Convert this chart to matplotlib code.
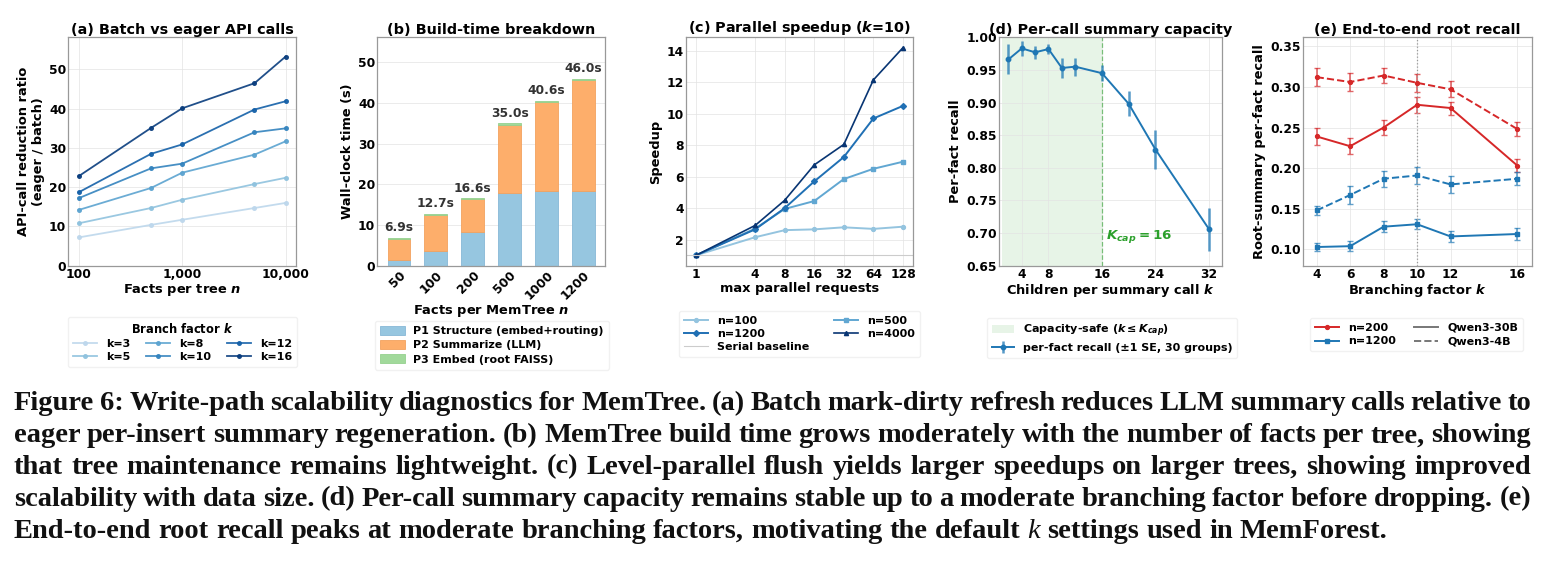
import numpy as np
import matplotlib
matplotlib.use("Agg")
import matplotlib.pyplot as plt
from matplotlib.lines import Line2D

# ---------------- data ----------------
# (a)
a_n = [100, 500, 1000, 5000, 10000]
a_k_labels = ["k=3", "k=5", "k=8", "k=10", "k=12", "k=16"]
a_k3 = [7.2, 10.4, 11.7, 14.7, 16.0]
a_k5 = [10.8, 14.7, 16.8, 20.8, 22.4]
a_k8 = [14.2, 19.8, 23.7, 28.3, 31.7]
a_k10 = [17.2, 24.8, 26.0, 34.0, 35.0]
a_k12 = [18.7, 28.5, 30.9, 39.8, 41.9]
a_k16 = [22.8, 35.1, 40.1, 46.5, 53.3]

# (b)
b_n = ["50", "100", "200", "500", "1000", "1200"]
b_p1 = [1.5, 3.7, 8.4, 17.8, 18.3, 18.3]
b_p2 = [5.1, 8.7, 7.9, 16.9, 22.0, 27.4]
b_p3 = [0.3, 0.3, 0.3, 0.3, 0.3, 0.3]
b_total = [6.9, 12.7, 16.6, 35.0, 40.6, 46.0]

# (c)
c_par = [1, 4, 8, 16, 32, 64, 128]
c_n100 = [1.0, 2.15, 2.6, 2.65, 2.78, 2.68, 2.82]
c_n500 = [1.0, 2.7, 3.95, 4.45, 5.85, 6.5, 6.95]
c_n1200 = [1.0, 2.65, 4.0, 5.7, 7.25, 9.7, 10.5]
c_n4000 = [1.0, 2.9, 4.5, 6.75, 8.05, 12.15, 14.2]

# (d)
d_k = [2, 4, 6, 8, 10, 12, 16, 20, 24, 32]
d_recall = [0.966, 0.983, 0.977, 0.982, 0.953, 0.955, 0.945, 0.898, 0.828, 0.706]
d_se = [0.023, 0.012, 0.010, 0.008, 0.016, 0.014, 0.012, 0.019, 0.030, 0.033]
d_kcap = 16

# (e)
e_k = [4, 6, 8, 10, 12, 16]
e_200_30b = [0.239, 0.227, 0.250, 0.278, 0.274, 0.203]
e_200_30b_se = [0.011, 0.010, 0.009, 0.010, 0.008, 0.008]
e_200_4b = [0.312, 0.306, 0.314, 0.305, 0.297, 0.248]
e_200_4b_se = [0.011, 0.011, 0.009, 0.011, 0.010, 0.009]
e_1200_30b = [0.103, 0.104, 0.128, 0.131, 0.116, 0.119]
e_1200_30b_se = [0.005, 0.006, 0.007, 0.006, 0.007, 0.007]
e_1200_4b = [0.148, 0.167, 0.187, 0.191, 0.180, 0.187]
e_1200_4b_se = [0.006, 0.011, 0.010, 0.010, 0.010, 0.008]

caption_lines = [
    "Figure 6: Write-path scalability diagnostics for MemTree. (a) Batch mark-dirty refresh reduces LLM summary calls relative to",
    "eager per-insert summary regeneration. (b) MemTree build time grows moderately with the number of facts per tree, showing",
    "that tree maintenance remains lightweight. (c) Level-parallel flush yields larger speedups on larger trees, showing improved",
    "scalability with data size. (d) Per-call summary capacity remains stable up to a moderate branching factor before dropping. (e)",
    "End-to-end root recall peaks at moderate branching factors, motivating the default k settings used in MemForest.",
]

# ---------------- style ----------------
plt.rcParams.update({
    "font.family": ["DejaVu Sans"],
    "font.weight": "bold",
    "axes.labelweight": "bold",
    "axes.titleweight": "bold",
    "mathtext.fontset": "custom",
    "mathtext.it": "DejaVu Sans:italic:bold",
    "mathtext.rm": "DejaVu Sans:bold",
    "mathtext.bf": "DejaVu Sans:bold",
    "xtick.labelsize": 8.8,
    "ytick.labelsize": 8.8,
    "xtick.major.size": 0,
    "ytick.major.size": 0,
    "xtick.major.pad": 2.0,
    "ytick.major.pad": 1.5,
    "axes.edgecolor": "#999999",
    "axes.linewidth": 0.9,
})

W, H = 1552, 568
fig = plt.figure(figsize=(W / 100, H / 100), dpi=100)

def add_ax(left, right, top=37.3, bottom=265.7):
    return fig.add_axes([left / W, 1 - bottom / H, (right - left) / W, (bottom - top) / H])

TFS = 10.4
LFS = 9.4
LEGFS = 8.0
GRID = dict(color="#e3e3e3", linewidth=0.5)

def leg_anchor(cx, top):
    return (cx / W, 1 - top / H)

# ---------------- (a) ----------------
ax = add_ax(68.3, 296)
a_series = [a_k3, a_k5, a_k8, a_k10, a_k12, a_k16]
cols = plt.cm.Blues(np.linspace(0.28, 0.95, 6))
for ser, lab, c in zip(a_series, a_k_labels, cols):
    ax.plot(a_n, ser, "-o", color=c, lw=1.3, ms=2.6, label=lab, alpha=0.9)
ax.set_xscale("log")
ax.set_xticks([100, 1000, 10000])
ax.set_xticklabels(["100", "1,000", "10,000"])
ax.minorticks_off()
ax.set_ylim(0, 58.2)
ax.set_yticks([0, 10, 20, 30, 40, 50])
ax.grid(True, **GRID)
ax.set_title("(a) Batch vs eager API calls", fontsize=TFS, pad=2.5)
ax.set_xlabel("Facts per tree $n$", fontsize=LFS, labelpad=0.5)
ax.set_ylabel("API-call reduction ratio\n(eager / batch)", fontsize=LFS, labelpad=3)
ax.legend(loc="upper center", bbox_to_anchor=leg_anchor(182.5, 311), bbox_transform=fig.transFigure,
          ncol=3, title="Branch factor $k$", prop={"weight": "bold", "size": LEGFS},
          title_fontproperties={"weight": "bold", "size": 8.3}, handlelength=2.2,
          columnspacing=1.4, handletextpad=0.8, labelspacing=0.3, borderpad=0.45,
          edgecolor="#eeeeee")

# ---------------- (b) ----------------
ax = add_ax(377.3, 605)
xb = np.arange(len(b_n))
bw = 0.62
p1c, p2c, p3c = "#96c6e0", "#fdae6b", "#a1d99b"
ax.bar(xb, b_p1, bw, color=p1c, edgecolor="#86b8d6", linewidth=0.6, label="P1 Structure (embed+routing)")
ax.bar(xb, b_p2, bw, bottom=b_p1, color=p2c, edgecolor="#f3a25f", linewidth=0.6, label="P2 Summarize (LLM)")
bot3 = [p + q for p, q in zip(b_p1, b_p2)]
ax.bar(xb, b_p3, bw, bottom=bot3, color=p3c, edgecolor="#95d18e", linewidth=0.6, label="P3 Embed (root FAISS)")
for xi, t in zip(xb, b_total):
    ax.text(xi, t + 0.9, f"{t:.1f}s", ha="center", va="bottom", fontsize=8.8, color="#333333", fontweight="bold")
ax.set_xticks(xb)
ax.set_xticklabels(b_n, rotation=45, ha="right", rotation_mode="anchor")
ax.set_ylim(0, 56.2)
ax.set_yticks([0, 10, 20, 30, 40, 50])
ax.grid(True, axis="y", **GRID)
ax.set_axisbelow(True)
ax.set_title("(b) Build-time breakdown", fontsize=TFS, pad=2.5)
ax.set_xlabel("Facts per MemTree $n$", fontsize=LFS, labelpad=0.5)
ax.set_ylabel("Wall-clock time (s)", fontsize=LFS, labelpad=3)
ax.legend(loc="upper center", bbox_to_anchor=leg_anchor(492, 315), bbox_transform=fig.transFigure,
          ncol=1, prop={"weight": "bold", "size": LEGFS}, handlelength=2.2, handleheight=0.9,
          labelspacing=0.35, borderpad=0.45, edgecolor="#eeeeee")

# ---------------- (c) ----------------
ax = add_ax(685.7, 913.3)
ccols = plt.cm.Blues([0.40, 0.53, 0.75, 0.98])
l100, = ax.plot(c_par, c_n100, "-o", color=ccols[0], lw=1.4, ms=2.8, label="n=100")
l500, = ax.plot(c_par, c_n500, "-s", color=ccols[1], lw=1.4, ms=3.0, label="n=500")
l1200, = ax.plot(c_par, c_n1200, "-D", color=ccols[2], lw=1.4, ms=3.0, label="n=1200")
l4000, = ax.plot(c_par, c_n4000, "-^", color=ccols[3], lw=1.2, ms=3.0, label="n=4000")
lbase = ax.axhline(1.0, color="#cccccc", lw=0.8, label="Serial baseline")
ax.set_xscale("log", base=2)
ax.set_xticks(c_par)
ax.set_xticklabels([str(v) for v in c_par])
ax.minorticks_off()
ax.set_yticks([2, 4, 6, 8, 10, 12, 14])
ax.grid(True, **GRID)
ax.set_title("(c) Parallel speedup ($k$=10)", fontsize=TFS, pad=2.5)
ax.set_xlabel("max parallel requests", fontsize=LFS, labelpad=0.5)
ax.set_ylabel("Speedup", fontsize=LFS, labelpad=3)
ax.legend([l100, l1200, lbase, l500, l4000], ["n=100", "n=1200", "Serial baseline", "n=500", "n=4000"],
          loc="upper center", bbox_to_anchor=leg_anchor(799.5, 305), bbox_transform=fig.transFigure,
          ncol=2, prop={"weight": "bold", "size": LEGFS}, handlelength=2.2, columnspacing=2.2,
          labelspacing=0.3, borderpad=0.45, edgecolor="#eeeeee")

# ---------------- (d) ----------------
ax = add_ax(999, 1221.7)
shade = ax.axvspan(1.0, d_kcap, color="#2ca02c", alpha=0.11, lw=0)
ax.axvline(d_kcap, color="#2ca02c", ls="--", lw=0.9, alpha=0.6)
eb = ax.errorbar(d_k, d_recall, yerr=d_se, fmt="-o", color="#1f77b4", ms=3.2, lw=1.4,
                 ecolor=(0.12, 0.47, 0.71, 0.75), elinewidth=1.8, capsize=0)
ax.text(16.6, 0.695, "$K_{cap}=16$", color="#2ca02c", fontsize=9.6, va="center", ha="left")
ax.set_xlim(0.6, 33.9)
ax.set_ylim(0.65, 1.0)
ax.set_xticks([4, 8, 16, 24, 32])
d_yt = [0.65, 0.70, 0.75, 0.80, 0.85, 0.90, 0.95, 1.00]
ax.set_yticks(d_yt)
ax.set_yticklabels([f"{v:.2f}" for v in d_yt])
ax.grid(True, **GRID)
ax.set_title("(d) Per-call summary capacity", fontsize=TFS, pad=2.5)
ax.set_xlabel("Children per summary call $k$", fontsize=LFS, labelpad=0.5)
ax.set_ylabel("Per-fact recall", fontsize=LFS, labelpad=3)
ax.legend([shade, eb], ["Capacity-safe ($k \\leq K_{cap}$)", "per-fact recall (±1 SE, 30 groups)"],
          loc="upper center", bbox_to_anchor=leg_anchor(1112, 312), bbox_transform=fig.transFigure,
          ncol=1, prop={"weight": "bold", "size": LEGFS}, handlelength=2.0,
          labelspacing=0.35, borderpad=0.45, edgecolor="#eeeeee")

# ---------------- (e) ----------------
ax = add_ax(1303.3, 1531.7)
red, blue = "#d62728", "#1f77b4"
ekw = dict(capsize=2.2, elinewidth=1.2, lw=1.4)
ax.errorbar(e_k, e_200_30b, yerr=e_200_30b_se, fmt="-o", color=red, ms=2.8,
            ecolor=(0.84, 0.15, 0.16, 0.7), **ekw)
ax.errorbar(e_k, e_200_4b, yerr=e_200_4b_se, fmt="--o", color=red, ms=2.8,
            ecolor=(0.84, 0.15, 0.16, 0.7), **ekw)
ax.errorbar(e_k, e_1200_30b, yerr=e_1200_30b_se, fmt="-s", color=blue, ms=3.0,
            ecolor=(0.12, 0.47, 0.71, 0.7), **ekw)
ax.errorbar(e_k, e_1200_4b, yerr=e_1200_4b_se, fmt="--s", color=blue, ms=3.0,
            ecolor=(0.12, 0.47, 0.71, 0.7), **ekw)
ax.axvline(10, color="#999999", ls=":", lw=0.9)
ax.set_xlim(3.2, 16.85)
ax.set_ylim(0.080, 0.361)
ax.set_xticks(e_k)
e_yt = [0.10, 0.15, 0.20, 0.25, 0.30, 0.35]
ax.set_yticks(e_yt)
ax.set_yticklabels([f"{v:.2f}" for v in e_yt])
ax.grid(True, **GRID)
ax.set_title("(e) End-to-end root recall", fontsize=TFS, pad=2.5)
ax.set_xlabel("Branching factor $k$", fontsize=LFS, labelpad=0.5)
ax.set_ylabel("Root-summary per-fact recall", fontsize=LFS, labelpad=3)
hs = [Line2D([], [], color=red, marker="o", ms=2.8, lw=1.4),
      Line2D([], [], color=blue, marker="s", ms=3.0, lw=1.4),
      Line2D([], [], color="#777777", lw=1.4),
      Line2D([], [], color="#777777", lw=1.4, ls="--")]
ax.legend(hs, ["n=200", "n=1200", "Qwen3-30B", "Qwen3-4B"],
          loc="upper center", bbox_to_anchor=leg_anchor(1416.5, 312), bbox_transform=fig.transFigure,
          ncol=2, prop={"weight": "bold", "size": LEGFS}, handlelength=2.2, columnspacing=1.6,
          labelspacing=0.35, borderpad=0.45, edgecolor="#eeeeee")

# ---------------- caption (justified) ----------------
renderer = fig.canvas.get_renderer()
CAP_FS = 20.5
CAP_FAM = "Liberation Serif"
CAP_W = "bold"
cap_x0, cap_x1 = 14, 1531
cap_y = [404, 436, 467, 499, 531]

def place_line(line, ypix, justify):
    words = line.split(" ")
    ts = []
    for w in words:
        style = "italic" if (w == "k" and not justify) else "normal"
        wt = "normal" if style == "italic" else CAP_W
        t = fig.text(0, 1 - ypix / H, w, fontsize=CAP_FS, family=CAP_FAM,
                     fontweight=wt, style=style, va="center", ha="left", color="#111111")
        ts.append(t)
    widths = [t.get_window_extent(renderer).width for t in ts]
    if justify:
        gap = (cap_x1 - cap_x0 - sum(widths)) / (len(ts) - 1)
    else:
        sp = fig.text(0, 0, "a a", fontsize=CAP_FS, family=CAP_FAM, fontweight=CAP_W)
        sp2 = fig.text(0, 0, "aa", fontsize=CAP_FS, family=CAP_FAM, fontweight=CAP_W)
        gap = sp.get_window_extent(renderer).width - sp2.get_window_extent(renderer).width
        sp.remove(); sp2.remove()
    x = cap_x0
    for t, w in zip(ts, widths):
        t.set_x(x / W)
        x += w + gap

for i, (ln, yy) in enumerate(zip(caption_lines, cap_y)):
    place_line(ln, yy, justify=(i < len(caption_lines) - 1))

fig.savefig("out.png", dpi=100)
